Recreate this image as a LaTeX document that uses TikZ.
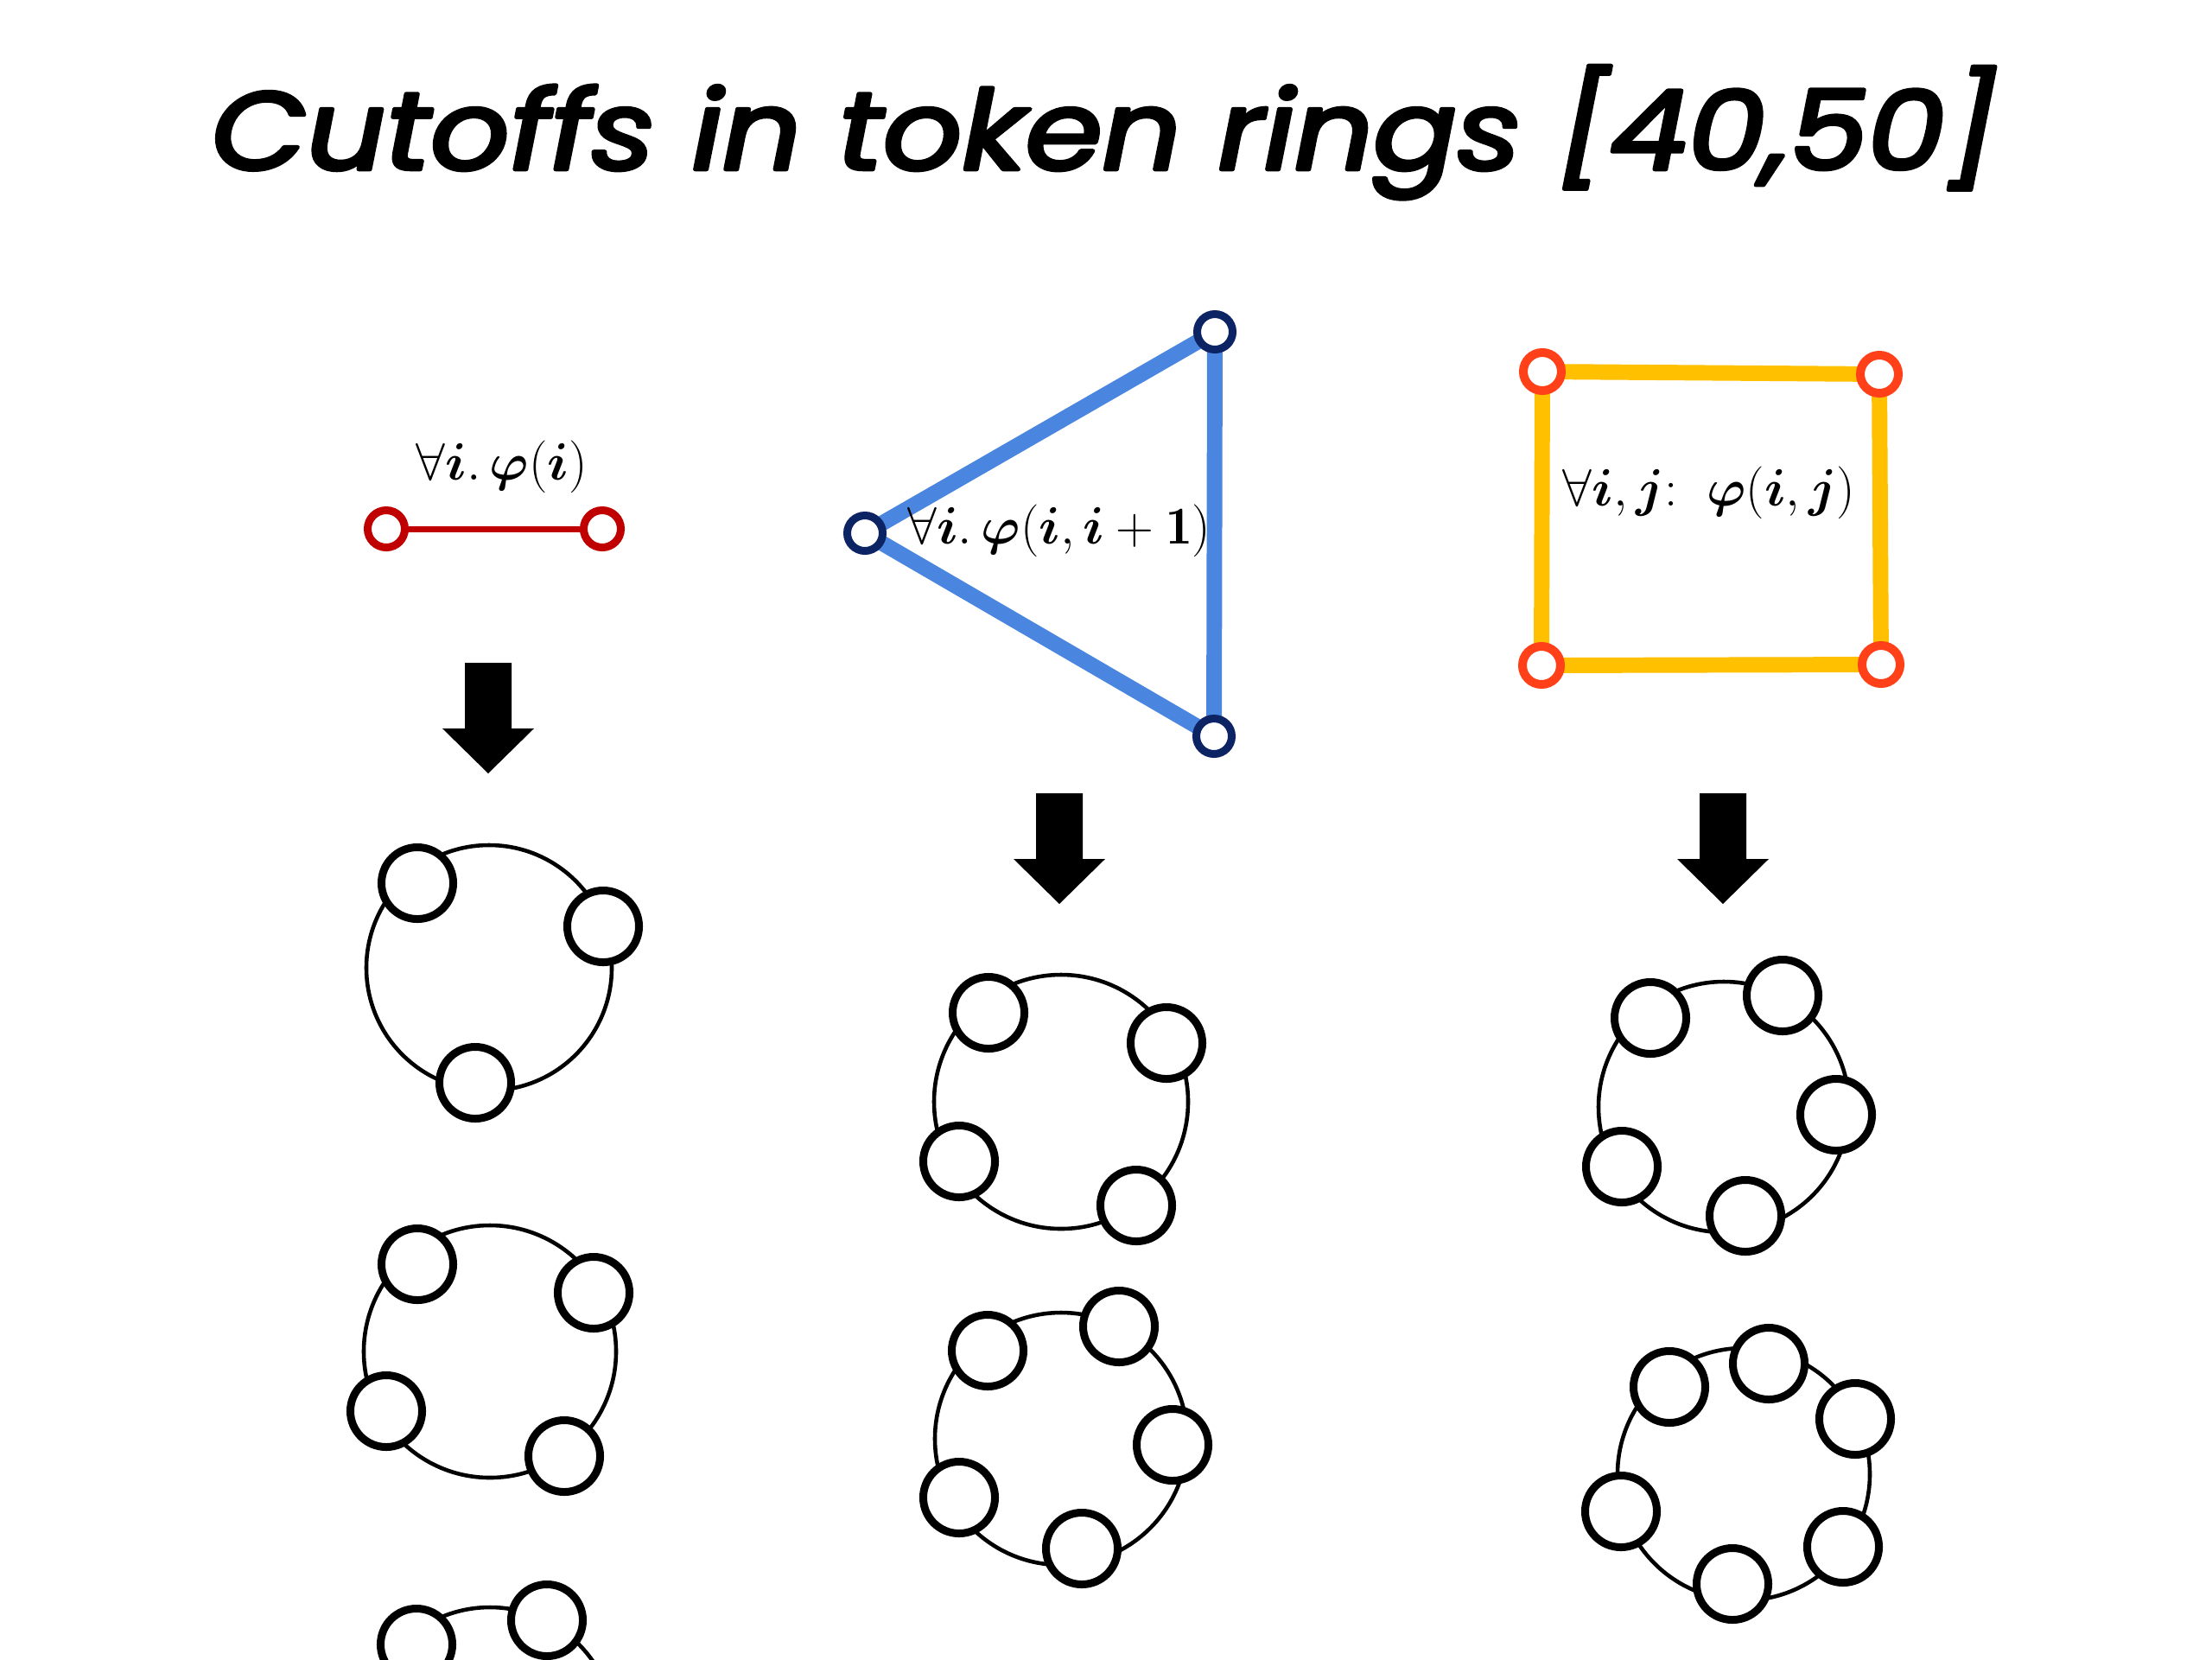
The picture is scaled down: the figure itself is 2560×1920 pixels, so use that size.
\documentclass[tikz,border=0pt]{standalone}
\usepackage{amsmath}
\usepackage{bm}
\usepackage{fontspec}
\newfontfamily\titlefont{Poppins}
\usetikzlibrary{backgrounds}
\definecolor{redc}{RGB}{192,0,0}
\definecolor{navyc}{RGB}{12,35,100}
\definecolor{bluec}{RGB}{74,134,224}
\definecolor{yellowc}{RGB}{255,192,0}
\definecolor{orangec}{RGB}{255,64,25}
\tikzset{
  tok/.style={circle,draw=black,line width=2.56pt,fill=white,minimum size=0.83cm,inner sep=0pt},
  ringline/.style={draw=black,line width=1.3pt},
  rednode/.style={circle,draw=redc,line width=2.56pt,fill=white,minimum size=0.43cm,inner sep=0pt},
  navynode/.style={circle,draw=navyc,line width=2.56pt,fill=white,minimum size=0.41cm,inner sep=0pt},
  orangenode/.style={circle,draw=orangec,line width=2.85pt,fill=white,minimum size=0.44cm,inner sep=0pt},
  rededge/.style={draw=redc,line width=2pt},
  blueedge/.style={draw=bluec,line width=5.1pt},
  yellowedge/.style={draw=yellowc,line width=5.1pt},
  formula/.style={inner sep=0pt,font=\fontsize{17.5}{20}\selectfont},
  blockarrow/.pic={\fill[black] (-27,0) -- (27,0) -- (27,76) -- (53,76) -- (0,128) -- (-53,76) -- (-27,76) -- cycle;}
}
\begin{document}
\begin{tikzpicture}[x=0.01cm,y=-0.01cm]
\useasboundingbox (0,0) rectangle (2560,1920);
\clip (0,0) rectangle (2560,1920);

% title
\node[anchor=base,inner sep=0pt] (title) at (1278,196)
  {\resizebox{20.65cm}{1.2cm}{\special{pdf:literal direct 2 Tr 0.35 w 1 j}\titlefont\itshape Cutoffs in token rings [40,50]\special{pdf:literal direct 0 Tr}}};

% left column: pair
\node[formula] (lab1) at (581,540) {$\forall \bm{i}.\,\bm{\varphi}(\bm{i})$};
\node[rednode] (p1) at (447,612) {};
\node[rednode] (p2) at (697,612) {};
\begin{pgfonlayer}{background}
\draw[rededge] (p1.center) -- (p2.center);
\end{pgfonlayer}

% middle column: triangle
\node[navynode] (t1) at (1406,384) {};
\node[navynode] (t2) at (1001,617) {};
\node[navynode] (t3) at (1405,852) {};
\begin{pgfonlayer}{background}
\draw[blueedge] (t1.center) -- (t2.center) -- (t3.center) -- cycle;
\end{pgfonlayer}
\node[formula] (lab2) at (1226,614) {$\forall \bm{i}.\,\bm{\varphi}(\bm{i},\bm{i}+\mathbf{1})$};

% right column: square
\node[orangenode] (s1) at (1785,430) {};
\node[orangenode] (s2) at (2175,433) {};
\node[orangenode] (s3) at (2177,769) {};
\node[orangenode] (s4) at (1784,770) {};
\begin{pgfonlayer}{background}
\draw[yellowedge] (s1.center) -- (s2.center) -- (s3.center) -- (s4.center) -- cycle;
\end{pgfonlayer}
\node[formula] (lab3) at (1978,570) {$\forall \bm{i},\bm{j}\mathbf{:}\;\;\bm{\varphi}(\bm{i},\bm{j})$};

% arrows
\pic at (565,767) {blockarrow};
\pic at (1226,918) {blockarrow};
\pic at (1994,918) {blockarrow};

% left rings
\draw[ringline] (566,1120) circle[radius=142];
\node[tok] (a1) at (483,1022) {};
\node[tok] (a2) at (698,1072) {};
\node[tok] (a3) at (550,1253) {};

\draw[ringline] (567,1564) circle[radius=146];
\node[tok] (b1) at (483,1463) {};
\node[tok] (b2) at (687,1496) {};
\node[tok] (b3) at (447,1633) {};
\node[tok] (b4) at (653,1685) {};

\draw[ringline] (567,2005) circle[radius=145];
\node[tok] (c1) at (482,1903) {};
\node[tok] (c2) at (633,1875) {};

% middle rings
\draw[ringline] (1228,1275) circle[radius=147];
\node[tok] (d1) at (1144,1172) {};
\node[tok] (d2) at (1350,1207) {};
\node[tok] (d3) at (1110,1344) {};
\node[tok] (d4) at (1315,1395) {};

\draw[ringline] (1228,1665) circle[radius=146];
\node[tok] (e1) at (1143,1563) {};
\node[tok] (e2) at (1295,1535) {};
\node[tok] (e3) at (1357,1672) {};
\node[tok] (e4) at (1110,1733) {};
\node[tok] (e5) at (1252,1792) {};

% right rings
\draw[ringline] (1995,1281) circle[radius=145];
\node[tok] (f1) at (1910,1178) {};
\node[tok] (f2) at (2063,1152) {};
\node[tok] (f3) at (2125,1290) {};
\node[tok] (f4) at (1877,1350) {};
\node[tok] (f5) at (2020,1407) {};

\draw[ringline] (2018,1706) circle[radius=146];
\node[tok] (g1) at (1932,1605) {};
\node[tok] (g2) at (2047,1578) {};
\node[tok] (g3) at (2147,1642) {};
\node[tok] (g4) at (1876,1749) {};
\node[tok] (g5) at (2133,1790) {};
\node[tok] (g6) at (2005,1833) {};
\end{tikzpicture}
\end{document}
